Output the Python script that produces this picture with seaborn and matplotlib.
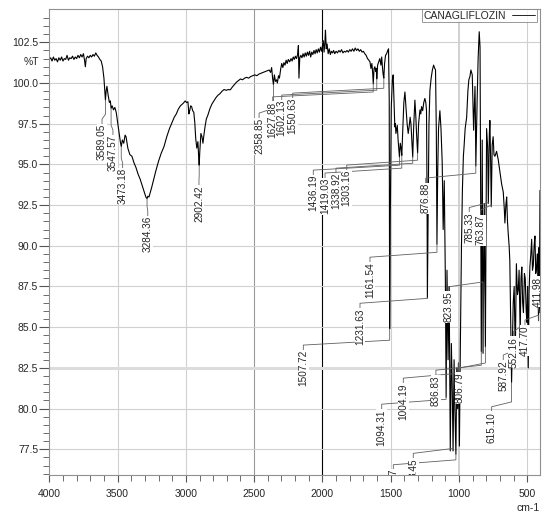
import numpy as np
import pandas as pd
import matplotlib
matplotlib.use("Agg")
import matplotlib.pyplot as plt
import seaborn as sns

# IR spectrum (wavenumber cm-1, %T)
wavenumber = [
    4000, 3990, 3980, 3970, 3960, 3950, 3940, 3930, 3920, 3910, 3900, 3890, 3880, 3870, 3860,
    3850, 3840, 3830, 3820, 3810, 3800, 3790, 3780, 3770, 3760, 3750, 3742, 3736, 3730, 3720,
    3710, 3700, 3690, 3680, 3670, 3660, 3650, 3640, 3630, 3620, 3610, 3600, 3594, 3589.05, 3584,
    3578, 3570, 3560, 3553, 3547.57, 3540, 3530, 3520, 3510, 3500, 3490, 3480, 3473.18, 3465,
    3455, 3445, 3438, 3425, 3410, 3395, 3380, 3365, 3350, 3335, 3320, 3305, 3295, 3290, 3284.36,
    3278, 3270, 3260, 3250, 3235, 3220, 3200, 3180, 3160, 3140, 3120, 3100, 3085, 3070, 3055,
    3040, 3020, 3005, 2995, 2985, 2978, 2972, 2965, 2958, 2950, 2942, 2935, 2928, 2920, 2912,
    2906, 2902.42, 2898, 2890, 2882, 2875, 2868, 2860, 2850, 2840, 2825, 2810, 2795, 2780, 2765,
    2750, 2735, 2720, 2705, 2690, 2675, 2660, 2645, 2630, 2615, 2600, 2585, 2570, 2555, 2540,
    2525, 2510, 2495, 2480, 2465, 2450, 2435, 2420, 2405, 2390, 2380, 2372, 2365, 2358.85, 2352,
    2344, 2336, 2330, 2322, 2315, 2305, 2298, 2290, 2282, 2274, 2266, 2258, 2250, 2240, 2230,
    2222, 2214, 2206, 2198, 2190, 2182, 2176, 2172, 2166, 2158, 2150, 2142, 2134, 2126, 2118,
    2110, 2102, 2094, 2086, 2078, 2070, 2062, 2054, 2046, 2038, 2030, 2022, 2014, 2006, 2000,
    1994, 1988, 1982, 1978, 1972, 1966, 1958, 1950, 1942, 1934, 1926, 1918, 1910, 1900, 1890,
    1880, 1870, 1860, 1850, 1840, 1830, 1820, 1810, 1800, 1790, 1780, 1770, 1760, 1750, 1740,
    1730, 1720, 1710, 1700, 1690, 1680, 1670, 1660, 1652, 1645, 1638, 1632, 1627.88, 1622, 1616,
    1610, 1605, 1602.13, 1596, 1588, 1580, 1572, 1566, 1560, 1555, 1550.63, 1545, 1538, 1530, 1522,
    1516, 1511, 1507.72, 1503, 1496, 1488, 1482, 1476, 1470, 1466, 1462, 1456, 1452, 1446, 1440,
    1436.19, 1430, 1424, 1419.03, 1412, 1404, 1396, 1388, 1380, 1372, 1364, 1358, 1352, 1346,
    1338.92, 1332, 1323, 1316, 1311, 1303.16, 1296, 1286, 1280, 1274, 1266, 1258, 1250, 1243,
    1238, 1234, 1231.63, 1227, 1220, 1213, 1204, 1195, 1186, 1180, 1172, 1166, 1161.54, 1156,
    1150, 1140, 1132, 1123, 1116, 1108, 1100, 1094.31, 1088, 1080, 1072, 1064, 1056, 1050,
    1043.45, 1036, 1030, 1022.77, 1016, 1010, 1004.19, 997, 990, 982, 975, 968, 963, 955, 944,
    935, 928, 920, 913, 903, 898, 893, 888, 883, 880, 876.88, 872, 867, 860, 852, 846, 840,
    836.83, 830, 823.95, 815, 806.79, 798, 790, 785.33, 778, 774, 768, 763.87, 757, 750, 744,
    737, 725, 713, 700, 688, 676, 668, 664, 657, 651, 645, 640, 633, 628, 621, 615.10, 609, 603,
    596, 587.92, 580, 572, 566, 560, 552.16, 546, 540, 534, 528, 521, 515, 508, 503, 498, 493,
    487, 481, 474, 468, 462, 456, 450, 444, 438, 432, 426, 417.70, 414, 411.98, 409, 407,
]
transmittance = [
    101.45, 101.55, 101.35, 101.6, 101.4, 101.5, 101.3, 101.55, 101.4, 101.6, 101.35, 101.5, 101.45, 101.7, 101.4,
    101.55, 101.5, 101.65, 101.45, 101.6, 101.5, 101.7, 101.55, 101.75, 101.6, 101.8, 101.4, 101.0, 101.5, 101.65,
    101.55, 101.7, 101.6, 101.75, 101.65, 101.85, 101.7, 101.6, 101.45, 101.35, 101.0, 100.3, 99.6, 98.95, 99.5,
    99.8, 99.3, 98.8, 98.9, 98.45, 98.6, 98.35, 98.5, 98.2, 97.6, 97.0, 96.4, 96.1, 96.5,
    96.3, 96.8, 96.7, 96.0, 95.6, 95.5, 95.1, 94.8, 94.4, 94.1, 93.7, 93.3, 93.05, 92.95, 92.9,
    93.05, 93.0, 93.3, 93.6, 94.1, 94.6, 95.2, 95.7, 96.1, 96.7, 97.2, 97.6, 97.9, 98.1, 98.4,
    98.6, 98.75, 98.9, 98.8, 98.85, 98.1, 98.3, 98.6, 98.55, 98.3, 98.2, 97.6, 96.6, 96.0, 96.4,
    95.4, 94.95, 95.8, 96.9, 96.7, 96.3, 96.8, 97.3, 97.8, 98.0, 98.4, 98.7, 98.9, 99.1, 99.25,
    99.35, 99.5, 99.6, 99.55, 99.6, 99.58, 99.75, 99.9, 100.05, 100.15, 100.25, 100.2, 100.3, 100.35, 100.3,
    100.4, 100.45, 100.5, 100.45, 100.55, 100.6, 100.65, 100.7, 100.75, 100.8, 100.65, 100.95, 100.3, 99.9, 100.5,
    100.1, 100.2, 100.0, 100.45, 100.3, 100.9, 101.2, 100.95, 101.25, 101.1, 101.4, 101.2, 101.45, 101.3, 101.5,
    101.35, 101.6, 101.45, 101.65, 101.5, 101.75, 102.3, 100.3, 101.55, 101.7, 101.55, 101.8, 101.6, 101.85, 101.65,
    101.9, 101.7, 101.95, 101.6, 101.9, 101.75, 102.0, 101.8, 102.05, 101.85, 102.1, 101.9, 102.2, 101.95, 102.3,
    102.6, 101.9, 102.5, 103.25, 102.1, 102.4, 101.8, 102.1, 101.75, 101.95, 101.85, 102.0, 101.8, 101.95, 101.85,
    102.0, 101.9, 102.05, 101.85, 101.95, 101.9, 102.0, 101.9, 102.05, 101.95, 102.1, 101.95, 102.15, 102.0, 102.1,
    101.95, 102.05, 101.9, 101.95, 101.8, 101.7, 101.5, 101.4, 101.3, 100.9, 101.2, 100.6, 99.95, 100.9, 101.0,
    100.7, 100.9, 100.25, 101.1, 101.3, 101.5, 101.1, 101.6, 100.9, 100.5, 100.3, 101.2, 101.7, 101.8, 102.0,
    102.1, 99.0, 84.9, 92.0, 98.5, 100.2, 100.5, 99.0, 97.3, 97.5, 96.9, 97.2, 97.4, 96.5, 95.8,
    95.45, 96.3, 96.0, 95.55, 97.0, 98.8, 99.45, 98.5, 97.5, 96.9, 97.4, 97.9, 97.5, 96.6,
    95.45, 97.3, 98.95, 97.9, 96.9, 95.7, 97.5, 98.35, 98.1, 98.55, 98.3, 98.8, 99.05, 98.8,
    98.3, 93.0, 86.8, 91.0, 97.5, 99.55, 100.3, 100.8, 101.1, 100.95, 100.8, 97.0, 90.1, 94.5,
    97.2, 98.3, 97.2, 95.1, 91.0, 94.0, 88.0, 80.7, 88.5, 83.0, 87.5, 77.4, 84.0, 81.5,
    77.4, 83.0, 80.0, 77.2, 82.5, 80.0, 82.8, 77.7, 84.0, 90.0, 93.5, 95.5, 96.1, 97.2, 97.9,
    99.5, 100.2, 100.4, 100.8, 100.5, 98.8, 97.1, 98.5, 99.8, 98.0, 94.9, 97.0, 99.0, 101.5, 103.15, 102.2, 90.0,
    83.5, 96.5, 83.4, 92.6, 83.8, 97.2, 96.0, 92.6, 96.8, 97.7, 95.0, 92.4, 96.2, 96.7, 95.6,
    95.5, 95.8, 95.3, 94.5, 93.8, 93.3, 92.2, 91.4, 92.5, 93.0, 91.5, 90.8, 90.0, 89.1, 85.0, 81.6, 84.0, 86.5,
    87.5, 83.3, 88.9, 87.0, 87.3, 88.5, 84.6, 88.0, 88.7, 86.5, 85.9, 88.3, 88.0, 86.0, 85.3, 87.5, 82.5,
    87.2, 88.7, 89.5, 90.4, 88.5, 88.8, 90.0, 90.6, 88.3, 88.7, 89.5, 85.4, 89.9, 85.9, 91.0, 93.4,
]

# labelled peaks
peak_wn = [3589.05, 3547.57, 3473.18, 3284.36, 2902.42, 2358.85, 1627.88, 1602.13, 1550.63,
           1436.19, 1419.03, 1338.92, 1303.16, 876.88, 785.33, 763.87, 1161.54, 1231.63,
           1507.72, 823.95, 1094.31, 1004.19, 836.83, 806.79, 1043.45, 1022.77, 615.10,
           587.92, 552.16, 417.70, 411.98]

# two labels run off the bottom of the plot; only their ends show
visible_text = {1043.45: "3.45", 1022.77: "7"}

# where each peak label sits (label x in cm-1, top of label in %T)
label_pos = [(3614, 97.48), (3534, 96.81), (3463, 94.78), (3279, 91.83), (2904, 93.73),
             (2464, 97.85), (2364, 98.85), (2298, 98.96), (2218, 99.08),
             (2067, 94.35), (1981, 94.17), (1901, 94.47), (1822, 94.66), (1244, 93.86),
             (925, 92.05), (841, 91.9), (1652, 89.0), (1725, 86.17),
             (2140, 83.6), (1078, 87.18), (1566, 79.97), (1408, 81.57), (1169, 82.06),
             (993, 82.2), (1335, 76.95), (1481, 76.25), (761, 79.81),
             (676, 82.99), (602, 84.42), (517, 85.14), (420, 86.26)]

df = pd.DataFrame({"wn": wavenumber, "T": transmittance})
t_of = dict(zip(wavenumber, transmittance))

sns.set_style("white")
plt.rcParams["font.family"] = ["Liberation Sans", "DejaVu Sans"]

fig = plt.figure(figsize=(5.59, 5.13), dpi=100)
ax = fig.add_axes([0.0882, 0.0741, 0.8778, 0.9078])

sns.lineplot(data=df, x="wn", y="T", sort=False, estimator=None, color="black",
             lw=0.8, ax=ax, label="CANAGLIFLOZIN", zorder=2)

ax.set_xlim(4000, 407)
ax.set_ylim(75.92, 104.53)
ax.set_xticks([4000, 3500, 3000, 2500, 2000, 1500, 1000, 500])
ax.set_xticks(np.arange(4000, 400, -100), minor=True)
ax.set_yticks([77.5, 80.0, 82.5, 85.0, 87.5, 90.0, 92.5, 95.0, 97.5, 100.0, 102.5])
ax.set_yticks(np.arange(76.0, 104.5, 0.5), minor=True)
ax.yaxis.set_major_formatter(matplotlib.ticker.FormatStrFormatter("%.1f"))
ax.tick_params(axis="both", which="major", labelsize=7.5, color="#555555", direction="out")
ax.tick_params(axis="y", which="major", length=7, width=0.8, left=True, pad=1)
ax.tick_params(axis="y", which="minor", length=4, width=0.6, left=True, color="#555555")
ax.tick_params(axis="x", which="major", length=5, width=0.8, bottom=True, pad=5)
ax.tick_params(axis="x", which="minor", length=4, width=0.6, bottom=True, color="#555555")
ax.set_xlabel("")
ax.set_ylabel("")

# grid
for v in [3500, 3000, 1500, 500]:
    ax.axvline(v, color="#d0d0d0", lw=0.8, zorder=0)
ax.axvline(2500, color="#9a9a9a", lw=0.8, zorder=0)
ax.axvline(1000, color="#c8c8c8", lw=1.2, zorder=0)
ax.axvline(2000, color="black", lw=0.8, zorder=0)
for h in [77.5, 80.0, 85.0, 87.5, 90.0, 92.5, 95.0, 97.5, 100.0, 102.5]:
    ax.axhline(h, color="#d0d0d0", lw=0.8, zorder=0)
ax.axhline(82.5, color="#dcdcdc", lw=2.2, zorder=0)

for s in ax.spines.values():
    s.set_color("#909090")
    s.set_linewidth(0.8)

# peak labels with leader lines
for wn, (lx, ly) in zip(peak_wn, label_pos):
    pt = t_of[wn]
    txt = visible_text.get(wn, f"{wn:.2f}")
    if wn == 411.98:
        ax.plot([wn, lx], [pt, ly], color="#606060", lw=0.6, zorder=2.5)
        ax.text(lx, ly, txt, rotation=90, ha="center", va="bottom", fontsize=7.2,
                bbox=dict(facecolor="white", edgecolor="none", pad=0.2), zorder=3, clip_on=True)
        continue
    xs = [wn, wn, lx, lx]
    ys = [pt, ly + 0.6, ly + 0.3, ly]
    ax.plot(xs, ys, color="#606060", lw=0.6, zorder=2.5)
    ax.text(lx, ly, txt, rotation=90, ha="center", va="top", fontsize=7.2,
            bbox=dict(facecolor="white", edgecolor="none", pad=0.2), zorder=3, clip_on=True)

ax.text(-0.02, 101.3, "%T", transform=ax.get_yaxis_transform(), ha="right", va="center",
        fontsize=7.5)
ax.text(1.0, -0.06, "cm-1", transform=ax.transAxes, ha="right", va="top", fontsize=7.5)

leg = ax.legend(loc="upper right", bbox_to_anchor=(0.993, 1.0), borderaxespad=0,
                markerfirst=False, fontsize=7.5, frameon=True, fancybox=False,
                borderpad=0.15, handlelength=2.2, handletextpad=0.6)
leg.get_frame().set_edgecolor("#808080")
leg.get_frame().set_linewidth(0.7)
leg.get_lines()[0].set_linewidth(0.6)

fig.savefig("out.png", dpi=100)
